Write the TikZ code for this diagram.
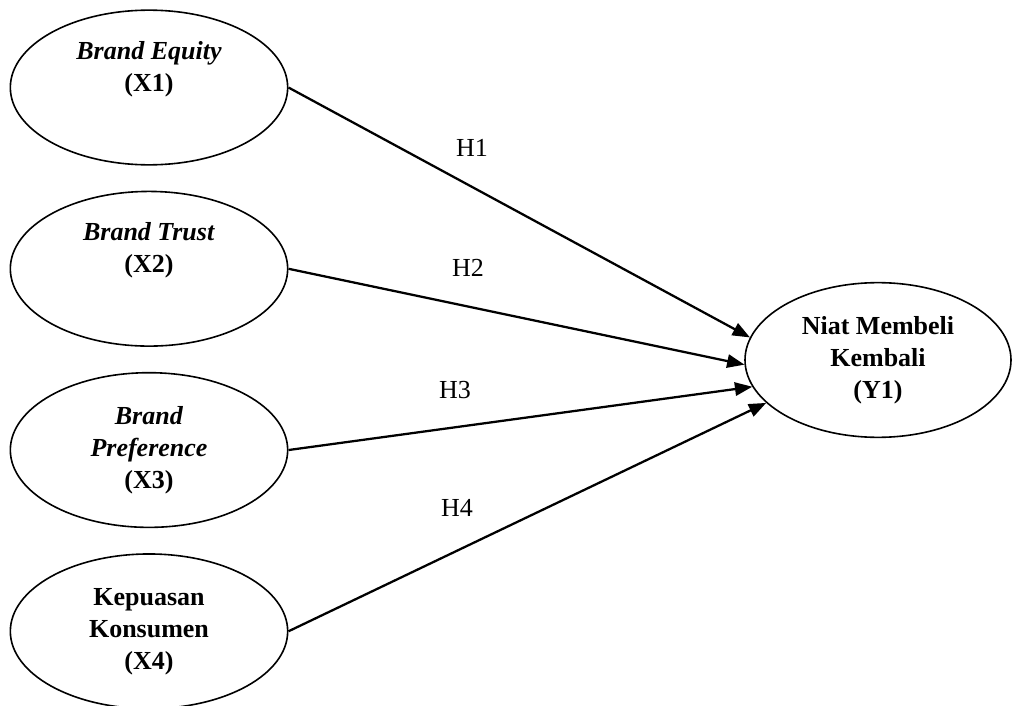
\documentclass[tikz,border=0pt]{standalone}
\usepackage{fontspec}
\setmainfont{Liberation Serif}
\usetikzlibrary{positioning}
\usetikzlibrary{shapes.geometric}
\usetikzlibrary{arrows.meta}

\begin{document}
\begin{tikzpicture}
  [x=0.75pt, y=-0.75pt,
   latent/.style={ellipse, draw, line width=1.2pt, minimum width=208pt, minimum height=116pt,
                  align=center, font=\fontsize{19.5pt}{24pt}\selectfont\bfseries},
   hyp/.style={-{Triangle[length=13pt,width=10pt]}, line width=1.7pt},
   hlabel/.style={font=\fontsize{19.5pt}{24pt}\selectfont},
   node distance=18.75pt]
  \useasboundingbox (0,0) rectangle (1014,706);
  \node (x1) [latent] at (149,87.5) {\textit{Brand Equity} \\ (X1) \\ \strut};
  \node (x2) [latent, below=of x1] {\textit{Brand Trust} \\ (X2) \\ \strut};
  \node (x3) [latent, below=of x2] {\textit{Brand} \\ \textit{Preference} \\ (X3)};
  \node (x4) [latent, below=of x3] {Kepuasan \\ Konsumen \\ (X4)};
  \node (y1) [latent, minimum width=199.5pt] at (878,360) {Niat Membeli \\ Kembali \\ (Y1)};

  \node (h1) [hlabel] at (472,148) {H1};
  \node (h2) [hlabel] at (468,268) {H2};
  \node (h3) [hlabel] at (455,390) {H3};
  \node (h4) [hlabel] at (457,508) {H4};

  \draw [hyp] (x1.east) -- (y1.170);
  \draw [hyp] (x2.east) -- (y1.182);
  \draw [hyp] (x3.east) -- (y1.192);
  \draw [hyp] (x4.east) -- (y1.201);
\end{tikzpicture}
\end{document}
